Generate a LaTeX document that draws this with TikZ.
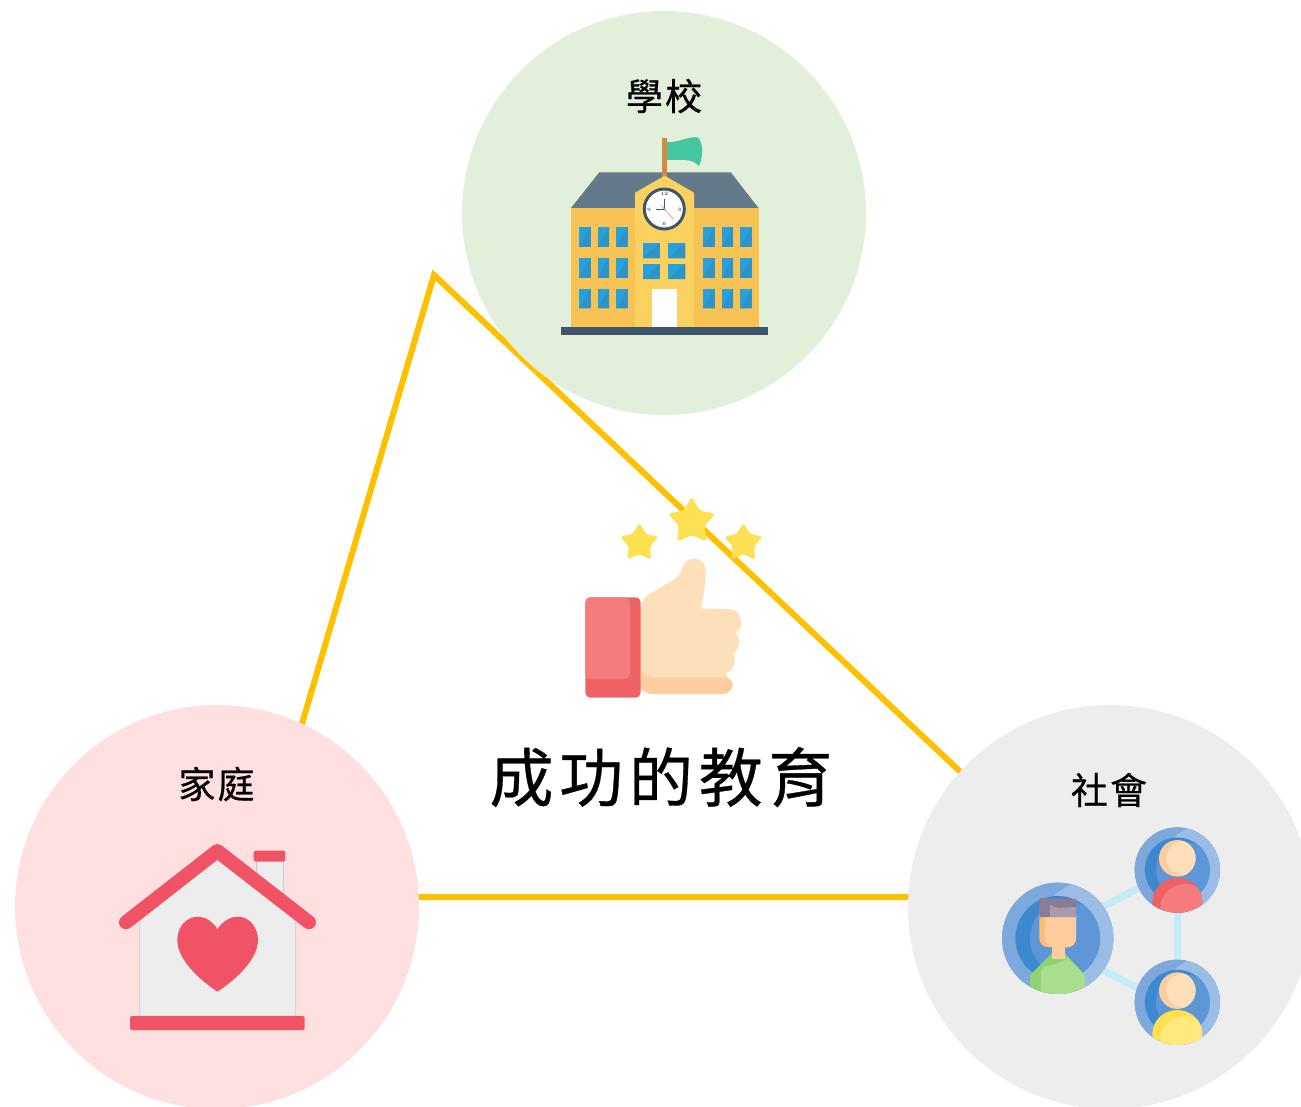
\documentclass[tikz,border=0pt]{standalone}
\usepackage{fontspec}
\newfontfamily\cjk[LetterSpace=6,FakeBold=0.6]{Noto Sans CJK TC}
\newfontfamily\cjkTitle[LetterSpace=9,FakeBold=0.5]{Noto Sans CJK TC}
\usetikzlibrary{shapes.geometric, calc, positioning}
\definecolor{triOrange}{HTML}{FFC000}
\definecolor{schoolBg}{HTML}{E2EFDA}
\definecolor{homeBg}{HTML}{FFE0E0}
\definecolor{socialBg}{HTML}{EDEDED}
\definecolor{wallYellow}{HTML}{F6C354}
\definecolor{towerYellow}{HTML}{FBD25F}
\definecolor{roofGray}{HTML}{64798A}
\definecolor{baseSlate}{HTML}{3F556B}
\definecolor{glassBlue}{HTML}{27A0DC}
\definecolor{glassDark}{HTML}{2E94C8}
\definecolor{flagGreen}{HTML}{46C6A0}
\definecolor{poleBrown}{HTML}{D08A45}
\definecolor{starYellow}{HTML}{FDE153}
\definecolor{cuffDark}{HTML}{ED6264}
\definecolor{cuffLight}{HTML}{F47C7D}
\definecolor{skinLight}{HTML}{FDE0BA}
\definecolor{skinDark}{HTML}{FECD9F}
\definecolor{homeRed}{HTML}{F05365}
\definecolor{ringDark}{HTML}{7CA8DC}
\definecolor{ringLight}{HTML}{9BBCE4}
\definecolor{discDark}{HTML}{3E88D0}
\definecolor{discLight}{HTML}{5E97D8}
\definecolor{linkBlue}{HTML}{C5EAF8}
\definecolor{hairDark}{HTML}{8A7C92}
\definecolor{hairLight}{HTML}{A89BAC}
\definecolor{shirtDark}{HTML}{8FD274}
\definecolor{shirtLight}{HTML}{A8DE8E}
\definecolor{shirtYellow}{HTML}{FEE97C}
\definecolor{shirtYellowDark}{HTML}{FFE14F}
\tikzset{
    triLine/.style={draw=triOrange, line width=6pt, line join=miter},
    bigDisc/.style={circle, inner sep=0pt, minimum size=404pt},
    placeName/.style={font=\cjk\fontsize{37}{37}\selectfont, inner sep=0pt},
    mainTitle/.style={font=\cjkTitle\fontsize{64}{64}\selectfont, inner sep=0pt},
    goldStar/.style={star, star points=5, star point ratio=1.85, fill=starYellow, rounded corners=3pt, inner sep=0pt},
    clockNum/.style={font=\fontsize{5}{5}\selectfont\bfseries, text=baseSlate, inner sep=0pt},
    avatarDisc/.style={circle, inner sep=0pt, fill=ringLight},
    linkLine/.style={draw=linkBlue, line width=7pt},
}
\newcommand{\drawPane}[4]{
    \fill[glassBlue] (#1,#2) rectangle (#1+#3,#2+#4);
    \fill[glassDark] (#1+#3,#2) -- (#1+#3,#2+#4) -- (#1,#2+#4) -- cycle;
}
% ring and disc of one avatar: centre x, centre y, radius
\newcommand{\drawRing}[3]{
    \fill[ringDark] (#1,#2) circle (#3pt);
    \begin{scope}
        \clip (#1,#2) circle (#3pt);
        \fill[ringLight] (#1+0.7*#3,#2+0.05*#3) circle (1.12*#3pt);
    \end{scope}
    \fill[discDark] (#1,#2) circle (0.76*#3pt);
    \begin{scope}
        \clip (#1,#2) circle (0.76*#3pt);
        \fill[discLight] (#1+0.16*#3,#2) circle (0.66*#3pt);
    \end{scope}
}
% small avatar: centre x, centre y, dark shirt, light shirt
\newcommand{\drawPerson}[4]{
    \begin{scope}
        \clip (#1,#2) circle (42.7pt);
        \fill[#3] (#1,#2+31.7) ellipse (25pt and 24pt);
        \clip (#1,#2+31.7) ellipse (25pt and 24pt);
        \fill[#4] (#1+8,#2+38) ellipse (25pt and 24pt);
    \end{scope}
    \fill[skinDark] (#1,#2-11.7) circle (18.3pt);
    \begin{scope}
        \clip (#1,#2-11.7) circle (18.3pt);
        \fill[skinLight] (#1+6,#2-11.7) circle (17pt);
    \end{scope}
}

\begin{document}
\begin{tikzpicture}[x=1pt, y=-1pt]
    \useasboundingbox (0,0) rectangle (1301,1106);

    % triangle behind everything
    \coordinate (apex) at (434,275);
    \coordinate (cornerL) at (251,897);
    \coordinate (cornerR) at (1093,897);
    \draw[triLine] (apex) -- (cornerL) -- (cornerR) -- cycle;

    \node[bigDisc, fill=schoolBg] (school) at (664,213) {};
    \node[bigDisc, fill=homeBg] (home) at (217,907) {};
    \node[bigDisc, fill=socialBg] (social) at (1110,907) {};

    \node[placeName] (schoolName) at (664,96) {學校};
    \node[placeName] (homeName) at (216.5,784) {家庭};
    \node[placeName] (socialName) at (1109,790) {社會};
    \node[mainTitle] (title) at (661,777) {成功的教育};

    % school building
    \fill[roofGray] (599.3,172.3) -- (730.7,172.3) -- (758.5,208) -- (571,208) -- cycle;
    \fill[wallYellow] (571,208) rectangle (759,327);
    \fill[flagGreen] (667,142) .. controls (678,143) and (688,136) .. (698,137.5)
        .. controls (704,145) and (703,156) .. (699,166)
        .. controls (692,158) and (680,160) .. (667,160) -- cycle;
    \fill[poleBrown] (662,137.7) rectangle (667,177);
    \fill[towerYellow] (635,327) -- (635,192.7) -- (664.7,175.7) -- (694,192.7) -- (694,327) -- cycle;
    \fill[white] (652,288.7) rectangle (677,327);
    \fill[baseSlate] (561,327) rectangle (768,335);
    \foreach \wy in {227,258,288.5} {
        \foreach \wx in {579,597.5,616,703,721.5,740} {
            \drawPane{\wx}{\wy}{11.5}{19.8}
        }
    }
    \foreach \wy/\wh in {243.3/15,264/15} {
        \foreach \wx in {642.7,668.3} {
            \drawPane{\wx}{\wy}{17}{\wh}
        }
    }
    \node[circle, fill=white, draw=baseSlate, line width=3pt, minimum size=40pt, inner sep=0pt] (clock) at (664.3,209) {};
    \node[clockNum] (clock12) at (664.3,194) {12};
    \node[clockNum] (clock3) at (679.5,209.5) {3};
    \node[clockNum] (clock6) at (664.3,224) {6};
    \node[clockNum] (clock9) at (649,209.5) {9};
    \draw[cuffDark!70, line width=0.7pt] (661.5,205.5) -- (673.5,219.5);
    \draw[baseSlate, line width=1pt] (664.3,198.5) -- (664.3,209) -- (656,209);
    \fill[glassBlue] (664.3,209) circle (1.3pt);

    % thumb with stars
    \node[goldStar, minimum size=50pt] (starTop) at (691.7,521.5) {};
    \node[goldStar, minimum size=41pt] (starLeft) at (639.3,543) {};
    \node[goldStar, minimum size=41pt] (starRight) at (743.3,543) {};
    \fill[skinLight] (640.7,607) .. controls (643,598) and (648,594) .. (653.3,591.7)
        -- (675,579) .. controls (680,575) and (682,568) .. (684,564)
        .. controls (688,556) and (705,556) .. (705.7,571)
        .. controls (706,585) and (703,598) .. (700.7,608.5)
        -- (729,609) .. controls (742,609) and (745,627) .. (735.7,633)
        .. controls (741,638) and (740,650) .. (732.5,653.5)
        .. controls (737,658) and (735,670) .. (726.5,672.7)
        -- (728,680) -- (640.7,690) -- cycle;
    \fill[skinDark] (640.7,671.5) .. controls (644,675) and (648,677.7) .. (655,677.7)
        -- (727,677.7) .. controls (735,680) and (735,692) .. (723.3,694)
        -- (652,694) .. controls (647,694) and (643,691) .. (640.7,688) -- cycle;
    \fill[cuffDark, rounded corners=5pt] (585.3,597.3) rectangle (640.7,697.7);
    \fill[cuffLight, rounded corners=5pt] (590,597.3) -- (630,597.3) -- (630,679) -- (585.3,679) -- (585.3,597.3) -- cycle;

    % house
    \fill[gray!40] (256.2,860) rectangle (283.8,895);
    \fill[socialBg] (257,860) rectangle (283,895);
    \filldraw[fill=socialBg, draw=gray!40, line width=0.7pt] (139.7,1016) -- (139.7,920) -- (217.3,859.3) -- (295.7,920) -- (295.7,1016) -- cycle;
    \draw[homeRed, line width=14pt, line cap=round, line join=round] (126,922.3) -- (217.3,851) -- (309,922.3);
    \fill[homeRed, rounded corners=2pt] (253.7,850.7) rectangle (285.3,861.5);
    \fill[homeRed, rounded corners=2pt] (130,1016) rectangle (304.7,1030);
    \fill[homeRed] (217.5,929) .. controls (212,921) and (205,916.7) .. (198.3,916.7)
        .. controls (186,916.7) and (177.3,927) .. (177.3,940)
        .. controls (177.3,960) and (200,980) .. (217.5,991.7)
        .. controls (235,980) and (258,960) .. (258,940)
        .. controls (258,927) and (249,916.7) .. (238,916.7)
        .. controls (230,916.7) and (223,921) .. (217.5,929) -- cycle;

    % people network
    \node[avatarDisc, minimum size=111.4pt] (bigAvatar) at (1057.7,938.3) {};
    \node[avatarDisc, minimum size=85.4pt] (topAvatar) at (1177.3,870) {};
    \node[avatarDisc, minimum size=85.4pt] (lowAvatar) at (1177.3,1002.3) {};
    \draw[linkLine] (bigAvatar.35) -- (topAvatar.205);
    \draw[linkLine] (bigAvatar.-35) -- (lowAvatar.160);
    \draw[linkLine] (topAvatar) -- (lowAvatar);

    \drawRing{1057.7}{938.3}{55.7}
    \drawRing{1177.3}{870}{42.7}
    \drawRing{1177.3}{1002.3}{42.7}

    \begin{scope}
        \clip (1057.7,938.3) circle (55.7pt);
        \fill[shirtDark] (1030,975) -- (1051.7,953.3) -- (1065,953.3) -- (1085,975) -- (1085,995) -- (1030,995) -- cycle;
        \fill[shirtLight] (1041,995) -- (1041,972) .. controls (1041,964) and (1058,966) .. (1068,958) -- (1085,975) -- (1085,995) -- cycle;
    \end{scope}
    \fill[skinDark] (1051.7,940) rectangle (1065,959);
    \fill[skinDark!75!orange, rounded corners=9pt] (1039.3,905) -- (1076,905) -- (1076,947.3) -- (1039.3,947.3) -- cycle;
    \fill[skinDark, rounded corners=9pt] (1045,905) -- (1076,905) -- (1076,947.3) -- (1045,947.3) -- cycle;
    \fill[hairDark] (1039.3,898) -- (1076,899) -- (1076,917) -- (1039.3,917) -- cycle;
    \fill[hairLight] (1050,905) -- (1058,908) -- (1076,907) -- (1076,917) -- (1050,917) -- cycle;

    \drawPerson{1177.3}{870}{cuffDark}{cuffLight}
    \drawPerson{1177.3}{1002.3}{shirtYellowDark}{shirtYellow}

\end{tikzpicture}
\end{document}
